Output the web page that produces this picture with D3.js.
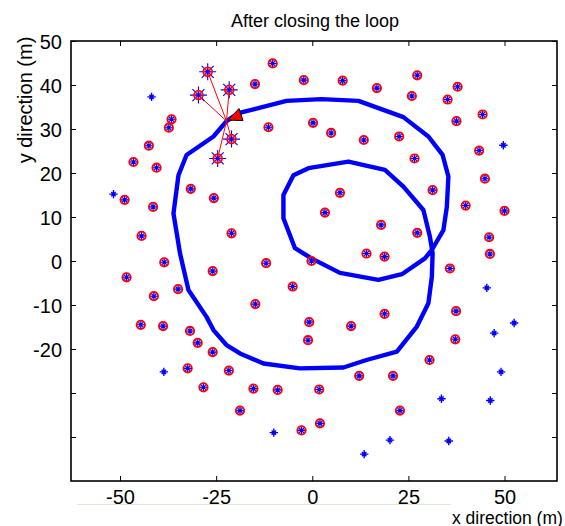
<!DOCTYPE html>
<html><head><meta charset="utf-8">
<script src="https://cdn.jsdelivr.net/npm/d3@7"></script>
<style>
body{margin:0;background:#fff}
svg{display:block}
text{font-family:"Liberation Sans",Arial,Helvetica,sans-serif;fill:#000}
</style>
</head><body>
<svg id="c" width="565" height="526"></svg>
<script>
const titleText = "After closing the loop";
const xLabelText = "x direction (m)";
const yLabelText = "y direction (m)";
const xTicks = [-50, -25, 0, 25, 50];
const xTickLabels = ["-50", "-25", "0", "25", "50"];
const yTicks = [50, 40, 30, 20, 10, 0, -10, -20, -30, -40];
const yTickLabels = ["50", "40", "30", "20", "10", "0", "-10", "-20", "", ""];

// Robot trajectory (closed loop)
const pathX = [-22.3,-19.2,-6.7,2.4,12.0,23.7,30.2,33.9,35.4,35.0,34.1,31.1,29.3,23.3,17.2,7.2,-0.2,-4.5,-7.5,-7.5,-4.9,-1.0,9.4,18.9,23.7,28.9,30.6,31.3,31.1,30.2,27.2,22.0,14.1,8.1,-3.2,-12.7,-18.8,-22.3,-25.7,-27.5,-32.2,-34.4,-36.1,-34.8,-32.7,-25.7,-22.3];
const pathY = [31.8,33.6,36.4,36.8,36.4,32.7,28.3,24.1,19.2,12.3,7.0,2.5,0.6,-3.0,-4.3,-2.7,0.6,2.9,9.7,15.0,19.5,21.1,22.6,20.7,16.9,11.6,5.5,1.8,-3.6,-9.6,-14.9,-20.6,-22.5,-24.2,-24.4,-23.3,-21.0,-19.1,-15.7,-12.7,-6.6,1.75,10.8,19.5,24.1,28.3,31.8];

// Current robot pose
const robotX = -22.3;
const robotY = 31.8;

// Landmarks currently observed (linked to robot)
const activeX = [-27.2, -29.6, -21.6, -21.0, -24.6];
const activeY = [43.0, 37.7, 38.9, 27.7, 23.3];

// Mapped landmarks (estimate + true position)
const landmarkX = [-14.9,-10.3,-2.2,7.9,16.8,27.3,25.9,37.8,35.2,44.3,37.5,22.6,43.4,26.6,44.9,31.3,39.9,50.0,17.9,27.3,46.0,-11.4,0.2,4.9,13.4,
  -36.6,-37.3,-42.5,-46.5,-40.5,-31.6,-48.8,-25.6,-41.4,-21.0,-44.4,-38.5,-25.9,-48.3,-41.2,-34.9,-14.8,-44.6,-38.8,-31.8,-29.8,-25.9,-32.4,-21.7,-28.3,-15.3,-9.0,-18.8,-2.8,
  7.2,3.3,14.1,18.8,35.8,-12.0,-0.2,-5.1,18.8,-0.8,10.1,-1.1,37.2,30.5,12.2,21.0,1.8,22.8,2.0,46.2,37.4];
const landmarkY = [40.2,44.9,41.1,41.0,39.3,42.2,37.5,39.6,36.7,33.3,31.8,28.3,25.1,23.3,18.7,16.1,12.6,11.4,8.2,6.4,5.4,30.4,31.4,29.1,27.5,
  32.2,30.3,26.2,22.5,21.2,16.4,13.9,14.3,12.3,6.3,5.7,-0.3,-2.3,-3.7,-8.0,-6.4,-9.8,-14.5,-14.8,-15.9,-18.6,-20.7,-24.4,-24.9,-28.7,-29.0,-29.3,-34.0,-38.5,
  15.5,11.0,1.7,1.0,-1.7,-0.5,0.0,-5.8,-12.0,-13.9,-14.8,-18.0,-17.8,-22.5,-26.1,-26.1,-29.2,-34.0,-36.9,1.6,-11.4];

// Landmarks never observed (true position only)
const unseenX = [-41.8,-51.7,-38.6,-10.0,47.3,49.1,33.6,46.3,20.2,35.5,13.5,49.7,45.4,52.5];
const unseenY = [37.3,15.2,-25.2,-39.0,-16.4,-25.2,-31.3,-31.7,-40.7,-40.9,-43.9,26.3,-6.1,-14.1];

const svg = d3.select("#c");
const L = 71, R = 557, T = 41, B = 481;
const x = d3.scaleLinear().domain([-62.75, 63.65]).range([L, R]);
const y = d3.scaleLinear().domain([-50, 50]).range([B, T]);

svg.append("rect").attr("width", 565).attr("height", 526).attr("fill", "#fff");

// Axes (MATLAB style, ticks inside)
const tickLen = 5;
const gx = svg.append("g").attr("transform", `translate(0,${B})`)
  .call(d3.axisBottom(x).tickValues(xTicks).tickSizeInner(-tickLen).tickSizeOuter(0).tickPadding(11)
    .tickFormat((d, i) => xTickLabels[i]));
const gxt = svg.append("g").attr("transform", `translate(0,${T})`)
  .call(d3.axisTop(x).tickValues(xTicks).tickSizeInner(-tickLen).tickSizeOuter(0).tickFormat(""));
const gy = svg.append("g").attr("transform", `translate(${L},0)`)
  .call(d3.axisLeft(y).tickValues(yTicks).tickSizeInner(-tickLen).tickSizeOuter(0).tickPadding(9)
    .tickFormat((d, i) => yTickLabels[i]));
const gyr = svg.append("g").attr("transform", `translate(${R},0)`)
  .call(d3.axisRight(y).tickValues(yTicks).tickSizeInner(-tickLen).tickSizeOuter(0).tickFormat(""));
[gx, gxt, gy, gyr].forEach(g => {
  g.select(".domain").remove();
  g.selectAll(".tick line").attr("stroke", "#000").attr("stroke-width", 1);
  g.selectAll("text").attr("font-size", 20).attr("font-family", '"Liberation Sans",Arial,sans-serif').attr("fill", "#000");
});
gx.selectAll("text").attr("dy", null).attr("y", 23.3);
gy.selectAll("text").attr("dy", null).attr("y", 7.3);

svg.append("rect").attr("x", L).attr("y", T).attr("width", R - L).attr("height", B - T)
  .attr("fill", "none").attr("stroke", "#000").attr("stroke-width", 1.6);

const plot = svg.append("g");

// Trajectory
plot.append("path")
  .datum(pathX.map((v, i) => [v, pathY[i]]))
  .attr("d", d3.line().x(d => x(d[0])).y(d => y(d[1])))
  .attr("fill", "none").attr("stroke", "#0000ff").attr("stroke-width", 4.4)
  .attr("stroke-linejoin", "round");

// Observation rays
plot.selectAll("line.ray").data(activeX.map((v, i) => [v, activeY[i]])).join("line")
  .attr("class", "ray")
  .attr("x1", x(robotX)).attr("y1", y(robotY))
  .attr("x2", d => x(d[0])).attr("y2", d => y(d[1]))
  .attr("stroke", "#ff0000").attr("stroke-width", 1);

function star(a, b) {
  return `M${-a},0H${a}M0,${-a}V${a}M${-b},${-b}L${b},${b}M${-b},${b}L${b},${-b}`;
}

// Mapped landmarks
const lm = plot.selectAll("g.lm").data(landmarkX.map((v, i) => [v, landmarkY[i]])).join("g")
  .attr("class", "lm").attr("transform", d => `translate(${x(d[0])},${y(d[1])})`);
lm.append("circle").attr("r", 4.2).attr("fill", "rgba(255,120,120,0.4)")
  .attr("stroke", "#ff0000").attr("stroke-width", 1.8);
lm.append("path").attr("d", star(3.6, 2.4)).attr("stroke", "#0000ff").attr("stroke-width", 1.1).attr("fill", "none");

// Unseen landmarks
plot.selectAll("path.un").data(unseenX.map((v, i) => [v, unseenY[i]])).join("path")
  .attr("class", "un")
  .attr("transform", d => `translate(${x(d[0])},${y(d[1])})`)
  .attr("d", star(4.2, 2.2)).attr("stroke", "#0000ff").attr("stroke-width", 1.4).attr("fill", "none");

// Active landmarks
const act = plot.selectAll("g.act").data(activeX.map((v, i) => [v, activeY[i]])).join("g")
  .attr("class", "act").attr("transform", d => `translate(${x(d[0])},${y(d[1])})`);
act.append("path").attr("d", star(8.5, 6)).attr("stroke", "#0000ff").attr("stroke-width", 1.1).attr("fill", "none");
act.append("circle").attr("r", 4.5).attr("fill", "rgba(255,60,60,0.6)")
  .attr("stroke", "#ff0000").attr("stroke-width", 1.5);
act.append("path").attr("d", star(3, 2)).attr("stroke", "#0000ff").attr("stroke-width", 1).attr("fill", "none");

// Robot
plot.append("path")
  .attr("transform", `translate(${x(robotX)},${y(robotY)})`)
  .attr("d", "M1.5,-1L12.5,-12.5L16.5,-0.5Z")
  .attr("fill", "#ff0000").attr("stroke", "#000").attr("stroke-width", 1);

// Title
svg.append("text").attr("x", 315).attr("y", 27).attr("text-anchor", "middle")
  .attr("font-size", 18).text(titleText);

// Y label
svg.append("text").attr("transform", "translate(32,100) rotate(-90)")
  .attr("text-anchor", "middle").attr("font-size", 20).text(yLabelText);

// X label
svg.append("text").attr("x", 452).attr("y", 523.5).attr("text-anchor", "start")
  .attr("font-size", 17.5).text(xLabelText);
svg.append("line").attr("x1", 77).attr("x2", 451).attr("y1", 504.5).attr("y2", 504.5)
  .attr("stroke", "#e6e5dc").attr("stroke-width", 1);
</script>
</body></html>
